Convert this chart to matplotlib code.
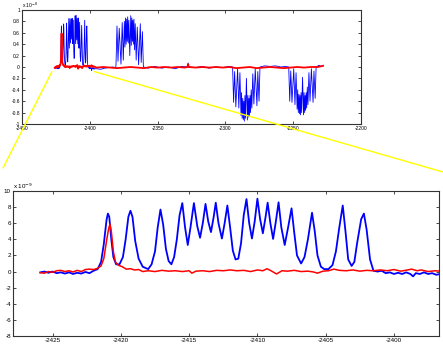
import matplotlib
matplotlib.use("Agg")
import matplotlib.pyplot as plt
import numpy as np
from matplotlib.patches import ConnectionPatch
from matplotlib.ticker import FormatStrFormatter, MultipleLocator

plt.rcParams['font.family'] = ['Liberation Sans', 'DejaVu Sans']
plt.rcParams['axes.unicode_minus'] = False

# zoomed scan (units of 1e-9), blue = signal, red = reference
zoom_x = [-2425.9, -2425.6, -2425.3, -2425.0, -2424.7, -2424.4, -2424.1, -2423.8, -2423.5, -2423.2,
          -2422.9, -2422.6, -2422.3, -2422.0, -2421.7, -2421.45, -2421.25, -2421.05, -2420.95, -2420.85,
          -2420.7, -2420.55, -2420.35, -2420.1, -2419.85, -2419.65, -2419.45, -2419.3, -2419.15, -2418.95,
          -2418.7, -2418.4, -2418.0, -2417.75, -2417.5, -2417.3, -2417.1, -2416.9, -2416.7, -2416.5,
          -2416.3, -2416.1, -2415.9, -2415.7, -2415.5, -2415.3, -2415.1, -2414.9, -2414.65, -2414.4,
          -2414.2, -2414.0, -2413.8, -2413.6, -2413.4, -2413.2, -2413.05, -2412.85, -2412.6, -2412.4,
          -2412.2, -2412.0, -2411.8, -2411.6, -2411.4, -2411.2, -2411.0, -2410.8, -2410.6, -2410.4,
          -2410.2, -2410.0, -2409.8, -2409.6, -2409.4, -2409.25, -2409.05, -2408.85, -2408.65, -2408.45,
          -2408.25, -2408.0, -2407.75, -2407.5, -2407.3, -2407.1, -2406.8, -2406.55, -2406.3, -2406.0,
          -2405.8, -2405.6, -2405.35, -2405.1, -2404.8, -2404.5, -2404.25, -2404.0, -2403.75, -2403.55,
          -2403.35, -2403.1, -2402.9, -2402.7, -2402.4, -2402.2, -2402.0, -2401.75, -2401.5, -2401.2,
          -2400.9, -2400.6, -2400.3, -2400.0, -2399.7, -2399.4, -2399.1, -2398.8, -2398.6, -2398.4,
          -2398.1, -2397.8, -2397.5, -2397.2, -2396.9, -2396.6]
zoom_blue = [-0.1, 0.0, -0.15, 0.0, -0.2, -0.1, -0.25, -0.1, -0.3, -0.15,
             -0.25, -0.05, -0.2, 0.1, 0.3, 1.2, 3.4, 6.4, 7.2, 6.8,
             4.0, 1.8, 0.9, 0.9, 1.8, 4.0, 6.8, 7.55, 6.8, 3.8,
             1.6, 0.6, 0.3, 0.9, 2.5, 5.5, 7.7, 5.8, 2.8, 1.3,
             0.9, 1.8, 4.0, 7.0, 8.5, 5.5, 3.3, 5.5, 8.5, 5.6,
             4.2, 6.0, 8.4, 6.2, 4.9, 6.8, 8.55, 6.0, 4.1, 6.0,
             8.2, 5.5, 2.6, 1.5, 1.6, 3.5, 7.0, 9.0, 6.0, 4.1,
             6.2, 9.05, 6.5, 4.75, 6.8, 8.55, 6.0, 4.05, 6.2, 8.6,
             5.5, 3.3, 5.5, 7.85, 4.8, 2.0, 1.0, 1.8, 4.0, 7.3,
             5.0, 2.0, 0.6, 0.3, 0.3, 0.8, 2.5, 5.5, 8.2, 5.0,
             1.5, 0.7, 1.2, 3.5, 6.5, 7.2, 5.2, 1.5, 0.1, 0.0,
             0.1, -0.2, -0.1, -0.3, -0.15, -0.3, -0.1, -0.3, -0.6, -0.2,
             -0.3, -0.1, -0.3, -0.2, -0.4, -0.3]

red_x = [-2425.9, -2425.6, -2425.3, -2425.0, -2424.7, -2424.4, -2424.1, -2423.8, -2423.5, -2423.2,
         -2422.9, -2422.6, -2422.3, -2422.0, -2421.7, -2421.45, -2421.25, -2421.05, -2420.9, -2420.8,
         -2420.7, -2420.55, -2420.4, -2420.2, -2419.9, -2419.6, -2419.3, -2419.0, -2418.7, -2418.4,
         -2418.0, -2417.5, -2417.0, -2416.5, -2416.0, -2415.5, -2415.0, -2414.8, -2414.5, -2414.0,
         -2413.5, -2413.0, -2412.5, -2412.0, -2411.5, -2411.0, -2410.5, -2410.0, -2409.6, -2409.3,
         -2409.0, -2408.6, -2408.2, -2407.8, -2407.3, -2406.8, -2406.3, -2405.9, -2405.6, -2405.2,
         -2404.8, -2404.4, -2404.0, -2403.5, -2403.0, -2402.5, -2402.0, -2401.5, -2401.0, -2400.5,
         -2400.0, -2399.5, -2399.0, -2398.7, -2398.3, -2398.0, -2397.5, -2397.0, -2396.6]
red_y = [-0.15, -0.2, 0.0, -0.1, 0.1, 0.15, 0.0, 0.1, -0.05, 0.15,
         0.0, 0.25, 0.3, 0.25, 0.4, 0.7, 1.6, 3.8, 5.3, 5.9,
         5.0, 2.5, 1.2, 0.8, 0.6, 0.3, 0.35, 0.2, 0.25, 0.0,
         0.1, 0.0, 0.15, 0.05, 0.1, 0.0, 0.1, -0.2, 0.05, 0.1,
         0.0, 0.15, 0.1, 0.2, 0.1, 0.15, 0.0, 0.2, 0.1, 0.35,
         0.1, -0.3, 0.1, 0.05, 0.15, 0.0, 0.05, -0.05, -0.2, 0.05,
         0.1, 0.3, 0.15, 0.1, 0.2, 0.05, 0.15, 0.1, 0.2, 0.1,
         0.25, 0.05, 0.2, 0.3, 0.1, 0.2, 0.0, 0.1, 0.05]

# rest of the full scan (units of 1e-8)
rest_x = [-2395.0, -2392.0, -2389.0, -2386.0, -2383.0, -2381.0,
          -2380.7, -2379.95, -2379.2, -2378.3, -2377.0, -2376.1, -2375.3, -2374.5, -2374.1, -2373.65,
          -2373.2, -2372.8, -2372.4, -2372.05, -2371.6, -2371.2, -2370.5, -2369.8, -2369.4, -2369.0,
          -2368.6, -2368.25, -2367.85, -2367.45, -2367.0, -2366.5, -2365.8, -2365.0, -2364.0, -2362.75,
          -2362.1, -2361.2, -2360.5,
          -2357.0, -2352.0, -2347.0, -2342.0, -2337.0, -2332.0, -2328.0, -2327.5, -2327.0, -2322.0,
          -2317.0, -2312.0, -2307.0, -2302.0, -2297.0,
          -2294.7, -2293.95, -2293.2, -2292.3, -2291.0, -2290.1, -2289.3, -2288.5, -2288.1, -2287.65,
          -2287.2, -2286.8, -2286.4, -2286.05, -2285.6, -2285.2, -2284.5, -2283.8, -2283.4, -2283.0,
          -2282.6, -2282.25, -2281.85, -2281.45, -2281.0, -2280.5, -2279.8, -2279.0, -2278.0, -2276.75,
          -2276.1, -2275.2, -2274.5,
          -2271.0, -2267.0, -2263.0, -2259.0, -2256.0,
          -2253.3, -2252.55, -2251.8, -2250.9, -2249.6, -2248.7, -2247.9, -2247.1, -2246.7, -2246.25,
          -2245.8, -2245.4, -2245.0, -2244.65, -2244.2, -2243.8, -2243.1, -2242.4, -2242.0, -2241.6,
          -2241.2, -2240.85, -2240.45, -2240.05, -2239.6, -2239.1, -2238.4, -2237.6, -2236.6, -2235.35,
          -2234.7, -2233.8, -2233.1,
          -2231.0, -2229.5, -2228.0]
rest_blue = [-0.03, -0.04, -0.02, -0.01, 0.0, -0.01,
             0.02, 0.72, 0.1, 0.68, 0.05, 0.78, 0.12, 0.8, 0.35, 0.86,
             0.4, 0.84, 0.45, 0.88, 0.42, 0.82, 0.2, 0.9, 0.38, 0.86,
             0.45, 0.82, 0.4, 0.84, 0.3, 0.76, 0.12, 0.7, 0.04, 0.76,
             0.08, 0.62, 0.0,
             -0.02, 0.01, -0.02, 0.0, -0.03, 0.01, 0.0, 0.07, 0.0, -0.01,
             0.01, -0.02, 0.0, -0.01, 0.01,
             0.0, -0.62, -0.08, -0.7, -0.03, -0.72, -0.1, -0.85, -0.45, -0.9,
             -0.55, -0.92, -0.6, -0.95, -0.5, -0.9, -0.2, -0.93, -0.5, -0.88,
             -0.55, -0.86, -0.5, -0.8, -0.4, -0.72, -0.12, -0.65, -0.03, -0.68,
             -0.08, -0.6, 0.0,
             0.02, 0.01, 0.02, 0.0, 0.01,
             0.0, -0.6, -0.07, -0.62, -0.03, -0.66, -0.1, -0.74, -0.4, -0.8,
             -0.48, -0.82, -0.5, -0.84, -0.45, -0.8, -0.18, -0.84, -0.45, -0.8,
             -0.5, -0.76, -0.45, -0.72, -0.35, -0.66, -0.1, -0.6, -0.03, -0.62,
             -0.07, -0.55, 0.0,
             0.03, 0.01, 0.03]
rest_red_x = [-2395.0, -2390.0, -2385.0, -2380.0, -2375.0, -2370.0, -2365.0, -2360.0, -2355.0, -2350.0,
              -2345.0, -2340.0, -2335.0, -2330.0, -2328.0, -2327.5, -2327.0, -2322.0, -2317.0, -2312.0,
              -2307.0, -2302.0, -2297.0, -2292.0, -2287.0, -2282.0, -2277.0, -2272.0, -2267.0, -2262.0,
              -2257.0, -2252.0, -2247.0, -2242.0, -2237.0, -2232.0, -2228.0]
rest_red = [-0.01, 0.0, -0.01, -0.02, -0.01, 0.0, -0.01, -0.02, 0.0, -0.01,
            0.0, -0.01, 0.0, -0.01, 0.0, 0.05, 0.0, -0.01, 0.0, -0.01,
            0.0, -0.01, 0.0, -0.02, -0.01, 0.0, -0.02, -0.01, 0.0, -0.01,
            -0.02, -0.01, 0.0, -0.01, 0.0, 0.0, 0.02]

top_yticks = [-1, -0.8, -0.6, -0.4, -0.2, 0, 0.2, 0.4, 0.6, 0.8, 1]
top_xticks = [-2450, -2400, -2350, -2300, -2250, -2200]
bottom_yticks = [-8, -6, -4, -2, 0, 2, 4, 6, 8, 10]
bottom_xticks = [-2425, -2420, -2415, -2410, -2405, -2400]

W, H = 443, 346
fig = plt.figure(figsize=(W / 100, H / 100), dpi=100)
ax1 = fig.add_axes([22 / W, 1 - 124 / H, 339 / W, 114 / H])
ax2 = fig.add_axes([13 / W, 1 - 336 / H, 426 / W, 145 / H])

# full scan
top_bx = list(zoom_x) + rest_x
top_by = [v / 10 for v in zoom_blue] + rest_blue
top_rx = list(red_x) + rest_red_x
top_ry = [v / 10 for v in red_y] + rest_red
ax1.plot(top_bx, top_by, color='blue', lw=0.6)
ax1.plot(top_rx, top_ry, color='red', lw=1.3)
ax1.set_xlim(-2450, -2200)
ax1.set_ylim(-1, 1)
ax1.set_xticks(top_xticks)
ax1.set_yticks(top_yticks)
ax1.yaxis.set_major_formatter(FormatStrFormatter('%g'))
ax1.text(0, 1.02, r'x 10$^{-8}$', transform=ax1.transAxes, fontsize=3.5)

# zoom
ax2.plot(zoom_x, zoom_blue, color='blue', lw=1.3)
ax2.plot(red_x, red_y, color='red', lw=1.1)
ax2.set_xlim(-2427.9, -2396.7)
ax2.set_ylim(-8, 10)
ax2.set_xticks(bottom_xticks)
ax2.set_yticks(bottom_yticks)
ax2.text(0, 1.015, r'x 10$^{-9}$', transform=ax2.transAxes, fontsize=4.5)

for ax, fs in [(ax1, 3.5), (ax2, 4.5)]:
    ax.tick_params(direction='in', top=True, right=True, length=2, width=0.5,
                   labelsize=fs, pad=1.5)
    for s in ax.spines.values():
        s.set_linewidth(0.8)
        s.set_color('#333333')

# yellow zoom lines
xl = ax2.get_xlim()
for xa, end in [(xl[0], (3 / W, 1 - 168 / H)), (xl[1], (1.0, 1 - 172 / H))]:
    con = ConnectionPatch(xyA=(xa, -0.08), coordsA='data', axesA=ax1,
                          xyB=end, coordsB='figure fraction',
                          color='#ffff00', lw=1.0, zorder=10)
    fig.add_artist(con)

fig.savefig('out.png', dpi=100)
